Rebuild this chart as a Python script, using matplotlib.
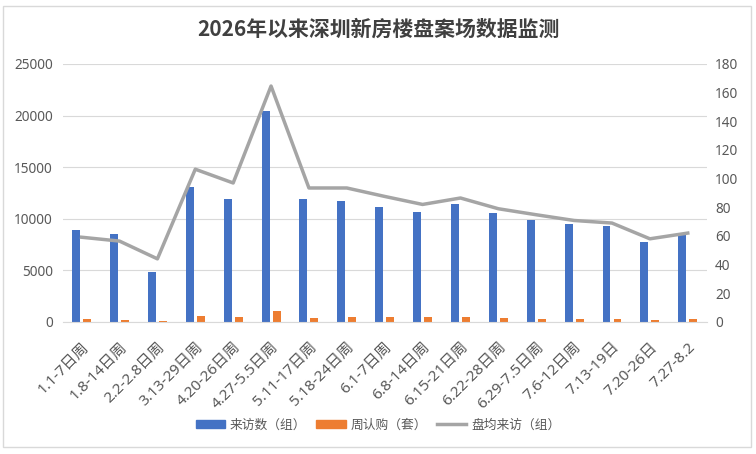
import matplotlib
matplotlib.use("Agg")
import matplotlib.pyplot as plt
import numpy as np
from matplotlib.patches import Rectangle, Patch
from matplotlib.lines import Line2D

plt.rcParams['font.family'] = ['Noto Sans', 'Noto Sans CJK SC', 'DejaVu Sans']

categories = ["1.1-7日周", "1.8-14日周", "2.2-2.8日周", "3.13-29日周", "4.20-26日周",
              "4.27-5.5日周", "5.11-17日周", "5.18-24日周", "6.1-7日周", "6.8-14日周",
              "6.15-21日周", "6.22-28日周", "6.29-7.5日周", "7.6-12日周", "7.13-19日",
              "7.20-26日", "7.27-8.2"]
visits = [8890, 8500, 4820, 13070, 11900, 20440, 11900, 11710, 11130, 10640,
          11420, 10540, 9860, 9480, 9280, 7730, 8440]
subs = [290, 180, 80, 550, 450, 1040, 360, 450, 450, 450, 450, 360, 260, 260, 260, 160, 260]
avg_visits = [59.0, 56.3, 43.9, 106.5, 96.9, 164.6, 93.4, 93.4, 87.5, 81.9,
              86.4, 78.9, 74.7, 70.7, 68.9, 57.9, 61.9]

blue = "#4472C4"
orange = "#ED7D31"
gray = "#A5A5A5"
txt = "#595959"

fig = plt.figure(figsize=(7.56, 4.54), dpi=100)
fig.patches.append(Rectangle((3/756, 7/454), 748/756, 441/454, transform=fig.transFigure,
                             fill=False, edgecolor="#D9D9D9", linewidth=1.0))
ax = fig.add_axes([62.7/756, (454-321.7)/454, (706.7-62.7)/756, (321.7-64)/454])
x = np.arange(len(categories))
w = 0.21
ax.bar(x - 0.145, visits, width=w, color=blue, zorder=2)
ax.bar(x + 0.145, subs, width=w, color=orange, zorder=2)
ax.set_ylim(0, 25000)
ax.set_yticks(np.arange(0, 25001, 5000))
ax.set_xlim(-0.5, len(categories) - 0.5)
ax.grid(axis='y', color="#D9D9D9", linewidth=0.8, zorder=0)
ax.set_axisbelow(True)
for s in ['top', 'right', 'left']:
    ax.spines[s].set_visible(False)
ax.spines['bottom'].set_color("#D9D9D9")
ax.tick_params(axis='both', length=0, colors=txt)
ax.tick_params(axis='y', pad=7, labelsize=9.8)
ax.set_xticks(x)
ax.set_xticklabels(categories, rotation=45, ha='right', rotation_mode='anchor')
ax.tick_params(axis='x', pad=13, labelsize=11)

ax2 = ax.twinx()
ax2.plot(x, avg_visits, color=gray, linewidth=2.5, zorder=3)
ax2.set_ylim(0, 180)
ax2.set_yticks(np.arange(0, 181, 20))
for s in ax2.spines.values():
    s.set_visible(False)
ax2.tick_params(axis='y', length=0, colors=txt, labelsize=9.8, pad=6)

fig.text(0.5, 1 - 29/454, "2026年以来深圳新房楼盘案场数据监测", ha='center', va='center',
         fontsize=15, fontweight='bold', color="#404040",
         family=['Noto Sans CJK SC', 'DejaVu Sans'])

handles = [Patch(color=blue), Patch(color=orange), Line2D([0], [0], color=gray, linewidth=2.5)]
labels = ["来访数（组）", "周认购（套）", "盘均来访（组）"]
fig.legend(handles, labels, loc='center', bbox_to_anchor=(0.5, 1 - 425/454), ncol=3,
           frameon=False, fontsize=9.2, labelcolor=txt, handlelength=2.3, handleheight=0.6,
           columnspacing=0.8, handletextpad=0.35)

fig.savefig("out.png", dpi=100)
